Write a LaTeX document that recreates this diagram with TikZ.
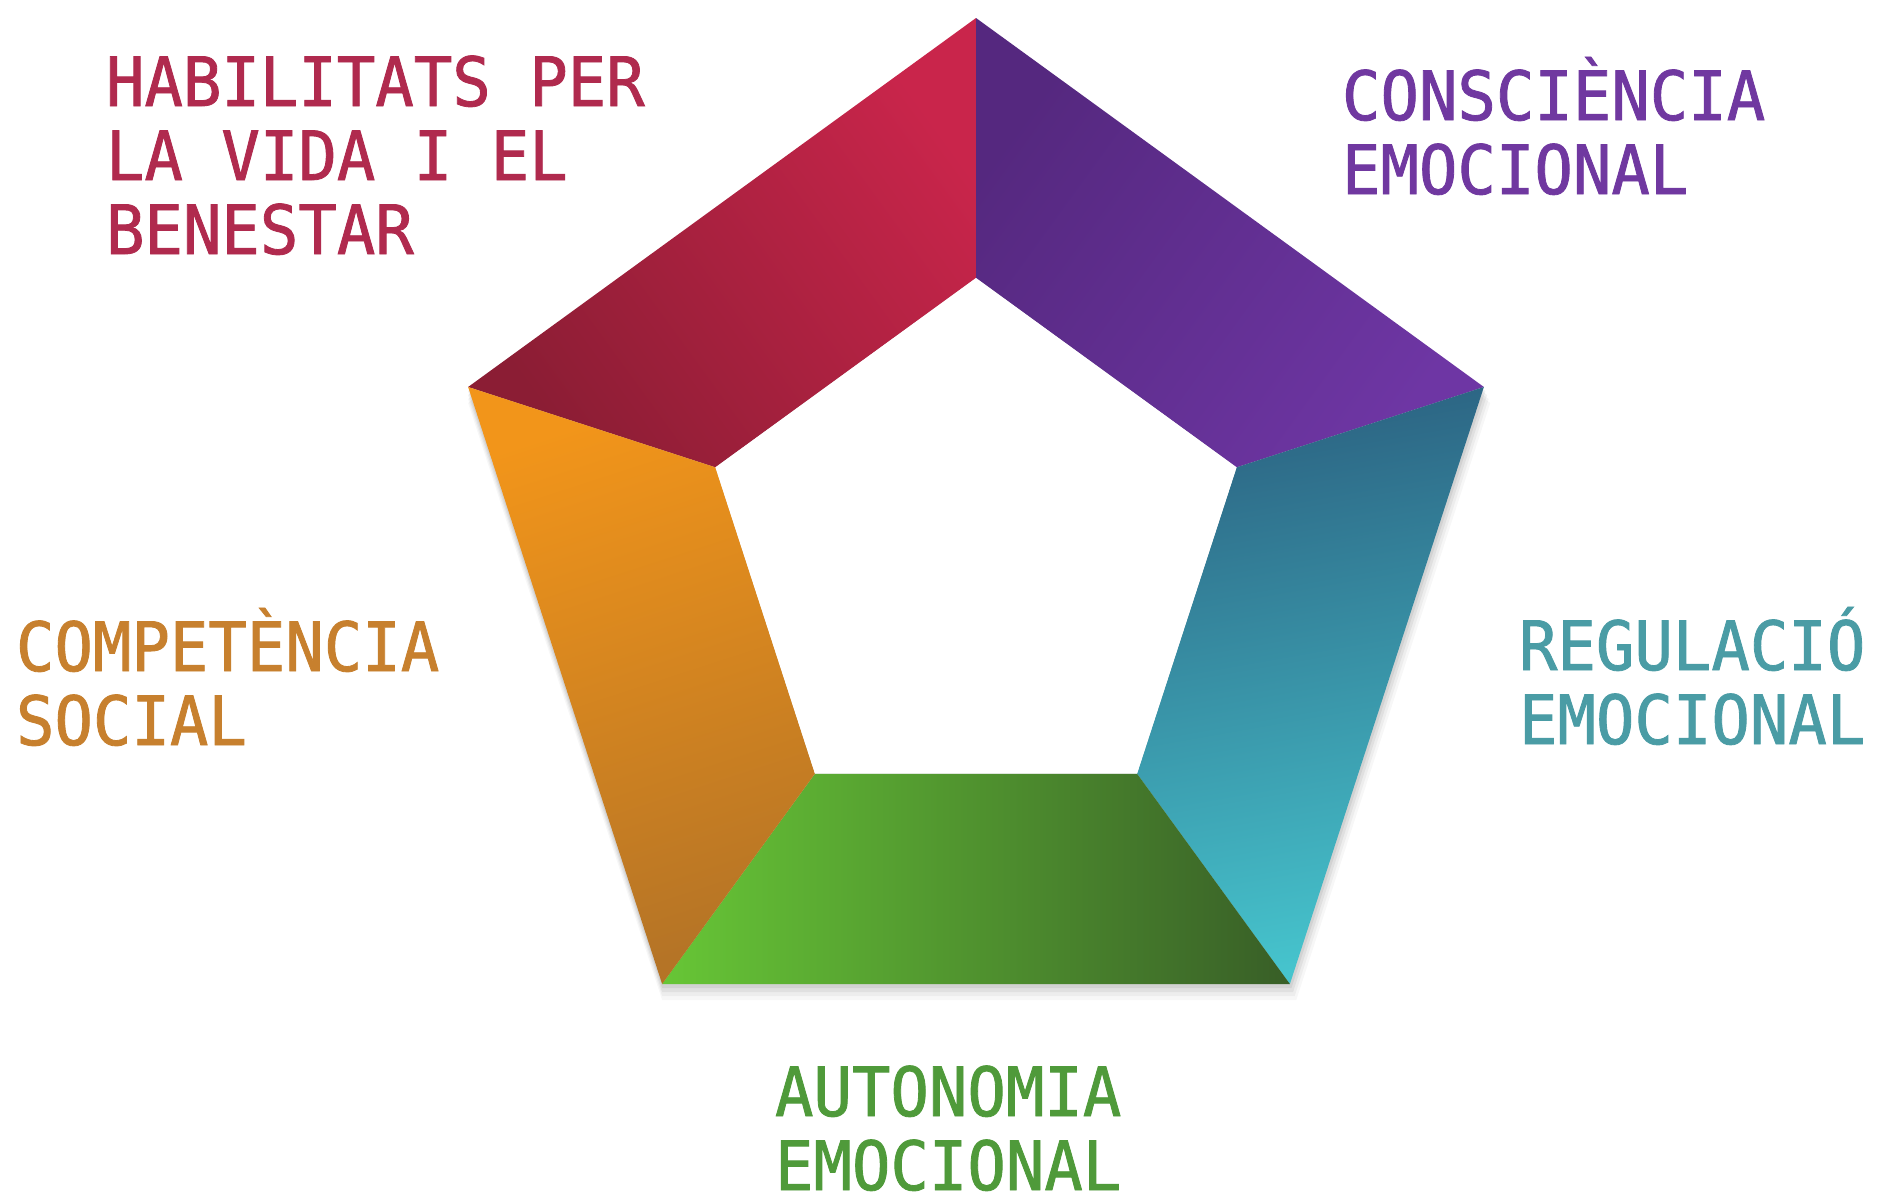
\documentclass[tikz,border=0pt]{standalone}
\usepackage{fontspec}
\newfontfamily\labelfont[FakeBold=1.2,FakeStretch=0.94]{DejaVu Sans Mono}
\usetikzlibrary{calc}
\definecolor{txtred}{HTML}{B02A4E}
\definecolor{txtpurple}{HTML}{7038A0}
\definecolor{txtorange}{HTML}{C7802E}
\definecolor{txtteal}{HTML}{4A9CA5}
\definecolor{txtgreen}{HTML}{4F9A3A}
\definecolor{redA}{HTML}{C9254B}
\definecolor{redB}{HTML}{8B1D34}
\definecolor{purA}{HTML}{55287F}
\definecolor{purB}{HTML}{6E36A4}
\definecolor{tealA}{HTML}{2C6483}
\definecolor{tealB}{HTML}{46C4CD}
\definecolor{grnA}{HTML}{67C636}
\definecolor{grnM}{HTML}{5DB03A}
\definecolor{grnB}{HTML}{385E27}
\definecolor{orgA}{HTML}{F2951A}
\definecolor{orgB}{HTML}{B57426}
\tikzset{
  lbl/.style={anchor=base west, inner sep=0pt, outer sep=0pt, font=\labelfont\fontsize{68}{74}\selectfont},
}
\newcommand{\lines}[1]{\vtop{\halign{##\hfil\cr#1\crcr}}}
\begin{document}
\begin{tikzpicture}[x=1pt,y=1pt]
\useasboundingbox (0,-1203) rectangle (1890,0);
\fill[white] (0,-1203) rectangle (1890,0);
\coordinate (c) at (976,-552);
% outer vertices
\coordinate (o1) at ($(c)+(90:534)$);
\coordinate (o2) at ($(c)+(18:534)$);
\coordinate (o3) at ($(c)+(-54:534)$);
\coordinate (o4) at ($(c)+(-126:534)$);
\coordinate (o5) at ($(c)+(162:534)$);
% inner vertices
\coordinate (i1) at ($(c)+(90:274)$);
\coordinate (i2) at ($(c)+(18:274)$);
\coordinate (i3) at ($(c)+(-54:274)$);
\coordinate (i4) at ($(c)+(-126:274)$);
\coordinate (i5) at ($(c)+(162:274)$);
% soft shadow
\foreach \d/\op in {16/0.03,12/0.04,8/0.05,4/0.06}{
  \fill[black,opacity=\op] ($(o1)+(0,-\d)$) -- ($(o2)+(\d*0.4,-\d)$) -- ($(o3)+(\d*0.4,-\d)$) -- ($(o4)+(0,-\d)$) -- ($(o5)+(0,-\d)$) -- cycle;
}
% segments
\shade[top color=redA, bottom color=redB, shading angle=-54] (o1) -- (i1) -- (i5) -- (o5) -- cycle;
\shade[top color=purA, bottom color=purB, shading angle=54] (o1) -- (o2) -- (i2) -- (i1) -- cycle;
\shade[top color=tealA, bottom color=tealB, shading angle=10] (o2) -- (o3) -- (i3) -- (i2) -- cycle;
\shade[left color=grnA, middle color=grnM, right color=grnB] (o3) -- (o4) -- (i4) -- (i3) -- cycle;
\shade[top color=orgA, bottom color=orgB, shading angle=18] (o4) -- (o5) -- (i5) -- (i4) -- cycle;
\fill[white] (i1) -- (i2) -- (i3) -- (i4) -- (i5) -- cycle;
% labels
\node[lbl, text=txtred] (hab) at (106,-106) {\lines{HABILITATS PER\cr LA VIDA I EL\cr BENESTAR}};
\node[lbl, text=txtpurple] (cons) at (1342,-120) {\lines{CONSCIÈNCIA\cr EMOCIONAL}};
\node[lbl, text=txtorange] (comp) at (16,-671) {\lines{COMPETÈNCIA\cr SOCIAL}};
\node[lbl, text=txtteal] (reg) at (1519,-670) {\lines{REGULACIÓ\cr EMOCIONAL}};
\node[lbl, text=txtgreen] (aut) at (775,-1116) {\lines{AUTONOMIA\cr EMOCIONAL}};
\end{tikzpicture}
\end{document}
